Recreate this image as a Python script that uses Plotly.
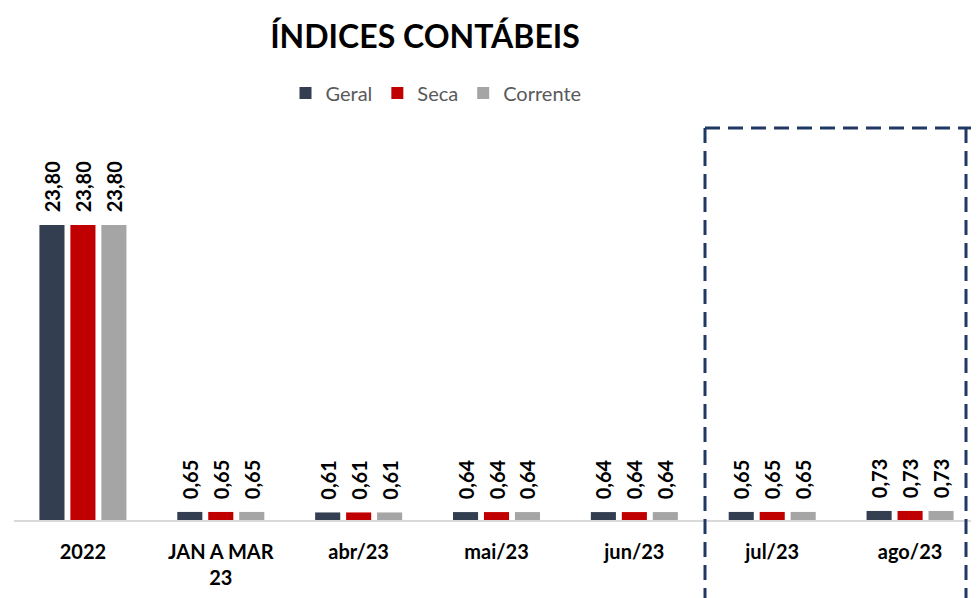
import plotly.graph_objects as go

categories = ["2022", "JAN A MAR<br>23", "abr/23", "mai/23", "jun/23", "jul/23", "ago/23"]
geral = [23.80, 0.65, 0.61, 0.64, 0.64, 0.65, 0.73]
seca = [23.80, 0.65, 0.61, 0.64, 0.64, 0.65, 0.73]
corrente = [23.80, 0.65, 0.61, 0.64, 0.64, 0.65, 0.73]

series = [("Geral", geral, "#333F50"), ("Seca", seca, "#C00000"), ("Corrente", corrente, "#A5A5A5")]

FONT = "Lato"
fig = go.Figure()
for name, vals, col in series:
    fig.add_trace(go.Bar(
        name=name, x=categories, y=vals,
        marker=dict(color=col, line=dict(width=0)),
        texttemplate="\u00a0\u00a0%{y:.2f}", textposition="outside", textangle=-90,
        textfont=dict(family=FONT, size=20, color="black", weight="bold"),
        cliponaxis=False,
    ))

# page body has an 8px margin: target screen coords are shifted by OFF
OFF = 8
W, H = 979 - OFF, 598
L, R = 14 - OFF, 0
T = 127 - OFF
B = H - (520 - OFF)
pw = W - L - R
ph = H - T - B

def px(x):
    return (x - OFF - L) / pw

def py(y):
    return (H - B - (y - OFF)) / ph

fig.update_layout(
    width=W, height=H,
    margin=dict(l=L, r=R, t=T, b=B, autoexpand=False),
    paper_bgcolor="white", plot_bgcolor="white",
    separators=",.",
    uniformtext=dict(minsize=20, mode="show"),
    barmode="group", bargap=0.326, bargroupgap=0.19,
    title=dict(text="<b>ÍNDICES CONTÁBEIS</b>", x=(425 - OFF) / W, xanchor="center",
               y=1 - (37 - OFF) / H, yanchor="middle", xref="container", yref="container",
               font=dict(family=FONT, size=32, color="black")),
    legend=dict(orientation="h", x=px(436), xanchor="center", y=py(93), yanchor="middle",
                font=dict(family=FONT, size=20, color="#595959"), itemwidth=30,
                traceorder="normal"),
    xaxis=dict(showline=True, linecolor="#D9D9D9", linewidth=2, ticks="outside",
               ticklen=13, tickcolor="rgba(0,0,0,0)", automargin=False,
               tickfont=dict(family=FONT, size=20, color="black", weight="bold")),
    yaxis=dict(range=[0, 23.8 * ph / 295], visible=False, showgrid=False,
               zeroline=False, automargin=False),
    showlegend=True,
)

dash_col = "#1F3864"
x0, x1 = px(705), px(966)
y0, y1 = py(610), py(128)
shape_lines = [(x0, y1, px(990), y1), (x0, y1, x0, y0), (x1, y1, x1, y0)]
for a, b, c, d in shape_lines:
    fig.add_shape(type="line", xref="paper", yref="paper", x0=a, y0=b, x1=c, y1=d,
                  line=dict(color=dash_col, width=3, dash="15px,8px"))

fig.write_html("out.html")
